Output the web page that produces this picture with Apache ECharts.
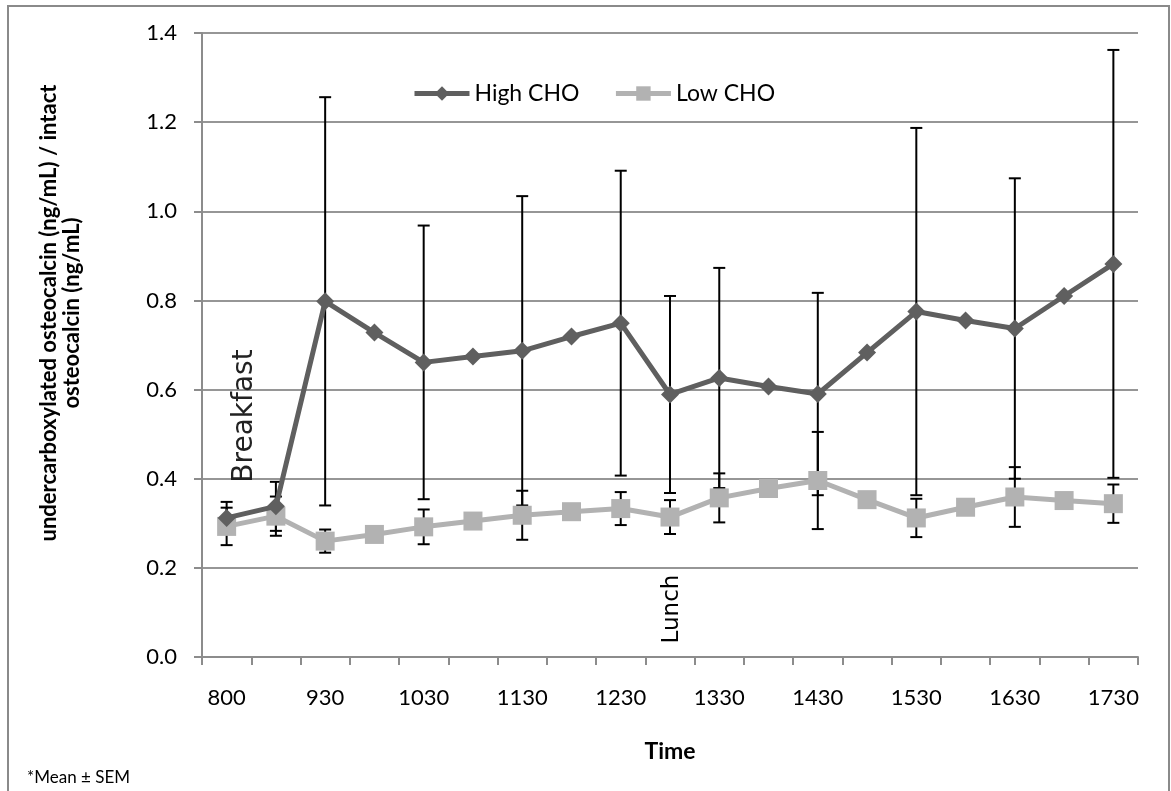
<!DOCTYPE html>
<html>
<head>
    <meta charset="utf-8">
    <title>Osteocalcin ratio</title>
    <script src="https://cdn.jsdelivr.net/npm/echarts@6/dist/echarts.min.js"></script>
    <style>
        html, body { margin: 0; padding: 0; background: #fff; }
        #main { width: 1171px; height: 791px; }
    </style>
</head>
<body>
<div id="main"></div>
<script type="text/javascript">
    // time points (only every other one is labelled on the axis)
    var times = ['800', '830', '930', '1000', '1030', '1100', '1130', '1200', '1230', '1300',
                 '1330', '1400', '1430', '1500', '1530', '1600', '1630', '1700', '1730'];
    var yTicks = [0, 0.2, 0.4, 0.6, 0.8, 1.0, 1.2, 1.4];

    var highCHO = [0.312, 0.338, 0.798, 0.728, 0.661, 0.674, 0.687, 0.719, 0.749, 0.589,
                   0.626, 0.607, 0.590, 0.683, 0.775, 0.755, 0.737, 0.810, 0.882];
    var highSEM = [0.036, 0.055, 0.458, null, 0.307, null, 0.347, null, 0.342, 0.221,
                   0.247, null, 0.227, null, 0.412, null, 0.337, null, 0.480];

    var lowCHO = [0.293, 0.316, 0.260, 0.275, 0.292, 0.305, 0.318, 0.326, 0.333, 0.314,
                  0.357, 0.378, 0.396, 0.353, 0.312, 0.336, 0.359, 0.351, 0.344];
    var lowSEM = [0.042, 0.044, 0.026, null, 0.039, null, 0.055, null, 0.037, 0.038,
                  0.055, null, 0.109, null, 0.043, null, 0.067, null, 0.043];

    var myChart = echarts.init(document.getElementById('main'));

    // mean -/+ SEM pairs for the error bars
    function errData(mean, sem) {
        var out = [];
        for (var i = 0; i < mean.length; i++) {
            if (sem[i] == null) continue;
            out.push([i, mean[i] - sem[i], mean[i] + sem[i]]);
        }
        return out;
    }

    function renderErr(params, api) {
        var top = api.coord([api.value(0), api.value(2)]);
        var bot = api.coord([api.value(0), api.value(1)]);
        var w = 6;
        var st = { stroke: '#000', lineWidth: 2 };
        return {
            type: 'group',
            children: [
                { type: 'line', shape: { x1: top[0], y1: top[1], x2: bot[0], y2: bot[1] }, style: st },
                { type: 'line', shape: { x1: top[0] - w, y1: top[1], x2: top[0] + w, y2: top[1] }, style: st },
                { type: 'line', shape: { x1: bot[0] - w, y1: bot[1], x2: bot[0] + w, y2: bot[1] }, style: st }
            ]
        };
    }

    var option = {
        animation: false,
        textStyle: { fontFamily: 'Lato' },
        grid: { left: 202, right: 33, top: 33, bottom: 134 },
        legend: {
            data: ['High CHO', 'Low CHO'],
            left: 407,
            top: 77,
            itemWidth: 55,
            itemHeight: 18,
            itemGap: 34,
            lineStyle: { width: 5 },
            textStyle: { fontFamily: 'Lato', fontSize: 23, color: '#000' }
        },
        xAxis: {
            type: 'category',
            data: times,
            boundaryGap: true,
            axisLine: { lineStyle: { color: '#8c8c8c', width: 2 } },
            axisTick: { show: true, interval: 0, length: 8, lineStyle: { color: '#8c8c8c', width: 2 } },
            axisLabel: { interval: 1, margin: 30, fontSize: 22, color: '#000', fontFamily: 'Lato' },
            splitLine: { show: false }
        },
        yAxis: {
            type: 'value',
            min: 0,
            max: 1.4,
            interval: 0.2,
            axisLine: { show: true, lineStyle: { color: '#8c8c8c', width: 2 } },
            axisTick: { show: true, length: 8, lineStyle: { color: '#8c8c8c', width: 2 } },
            axisLabel: {
                margin: 25, fontSize: 22, color: '#000', fontFamily: 'Lato',
                formatter: function (v) { return v.toFixed(1); }
            },
            splitLine: { lineStyle: { color: '#969696', width: 2 } }
        },
        graphic: [
            {
                type: 'rect',
                shape: { x: 8, y: 6, width: 1161, height: 800 },
                style: { fill: 'none', stroke: '#8a8a8a', lineWidth: 2 },
                silent: true
            },
            {
                type: 'text',
                x: 60, y: 313,
                rotation: Math.PI / 2,
                style: {
                    text: 'undercarboxylated osteocalcin (ng/mL) / intact\nosteocalcin (ng/mL)',
                    font: 'bold 22px Lato',
                    lineHeight: 23,
                    fill: '#000',
                    textAlign: 'center',
                    textVerticalAlign: 'middle'
                }
            },
            {
                type: 'text',
                x: 670, y: 752,
                style: {
                    text: 'Time', font: 'bold 23px Lato', fill: '#000',
                    textAlign: 'center', textVerticalAlign: 'middle'
                }
            },
            {
                type: 'text',
                x: 27, y: 778,
                style: {
                    text: '*Mean \u00b1 SEM', font: '17px Lato', fill: '#000',
                    textAlign: 'left', textVerticalAlign: 'middle'
                }
            },
            {
                type: 'text',
                x: 245, y: 416,
                rotation: Math.PI / 2,
                z: 100,
                style: {
                    text: 'Breakfast', font: '28px "DejaVu Sans"', fill: '#222',
                    textAlign: 'center', textVerticalAlign: 'middle'
                }
            },
            {
                type: 'text',
                x: 672, y: 609,
                rotation: Math.PI / 2,
                z: 100,
                style: {
                    text: 'Lunch', font: '23px "DejaVu Sans"', fill: '#000',
                    textAlign: 'center', textVerticalAlign: 'middle'
                }
            }
        ],
        series: [
            {
                name: 'High CHO err',
                type: 'custom',
                renderItem: renderErr,
                data: errData(highCHO, highSEM),
                encode: { x: 0, y: [1, 2] },
                z: 1,
                silent: true
            },
            {
                name: 'Low CHO err',
                type: 'custom',
                renderItem: renderErr,
                data: errData(lowCHO, lowSEM),
                encode: { x: 0, y: [1, 2] },
                z: 1,
                silent: true
            },
            {
                name: 'High CHO',
                type: 'line',
                data: highCHO,
                z: 3,
                symbol: 'diamond',
                symbolSize: 18,
                itemStyle: { color: '#5f5f5f' },
                lineStyle: { color: '#5f5f5f', width: 5 }
            },
            {
                name: 'Low CHO',
                type: 'line',
                data: lowCHO,
                z: 2,
                symbol: 'rect',
                symbolSize: 19,
                itemStyle: { color: '#b2b2b2' },
                lineStyle: { color: '#b2b2b2', width: 5 }
            }
        ]
    };

    myChart.setOption(option);
</script>
</body>
</html>
